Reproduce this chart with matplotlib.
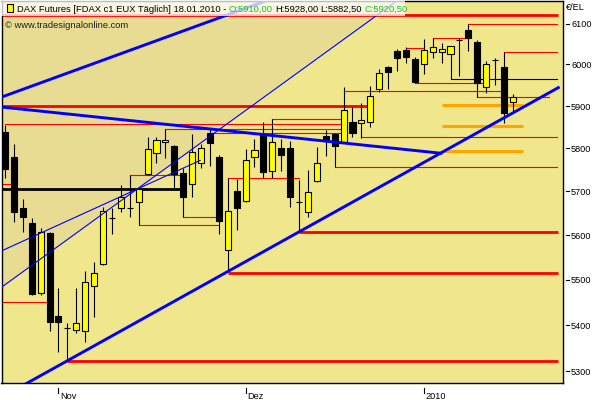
import numpy as np
import matplotlib
matplotlib.use("Agg")
import matplotlib.pyplot as plt
import matplotlib.transforms as mtransforms
from matplotlib.patches import Rectangle

plt.rcParams['font.family'] = ['Liberation Sans', 'DejaVu Sans']

# daily FDAX candles, 23.10.2009 .. 18.01.2010 (index = trading day)
opens = [5838, 5780, 5662, 5628, 5471, 5605, 5420.5, 5394.5, 5390, 5388,
         5486.5, 5535.5, 5639, 5662, 5662, 5676, 5740.5, 5789, 5815, 5805.5,
         5742.5, 5717, 5766, 5836, 5780, 5567, 5701, 5678, 5780, 5833.5,
         5747.5, 5801, 5801, 5676, 5653, 5724, 5829, 5833.5, 5815, 5862,
         5859.5, 5862, 5940.5, 5993.5, 6032.5, 6035, 6013, 6001, 6030, 6030,
         6025.5, 6059.5, 6084, 6054.5, 5945.5, 6010.5, 5993.5, 5910]
highs = [5855, 5810, 5683, 5639, 5616.5, 5607.5, 5482, 5405, 5482, 5520,
         5540, 5664.5, 5662, 5715, 5738, 5710.5, 5826.5, 5826.5, 5845.5, 5807,
         5754, 5833.5, 5810, 5848, 5784.5, 5731, 5729, 5798.5, 5822, 5862,
         5869, 5822, 5817.5, 5726.5, 5749.5, 5803, 5843, 5836, 5945.5, 5897.5,
         5907, 5948, 5989, 5996, 6037.5, 6042, 6018, 6062.5, 6065, 6052,
         6044.5, 6065, 6099, 6059.5, 6008.5, 6015.5, 6030, 5928]
lows = [5731, 5630, 5607.5, 5467, 5467, 5388, 5342, 5323, 5383.5, 5364,
        5418, 5533, 5603, 5653, 5641.5, 5623.5, 5738, 5766, 5777.5, 5708,
        5641.5, 5687.5, 5754, 5759, 5603, 5517.5, 5612, 5676, 5756.5, 5731,
        5731, 5747.5, 5664.5, 5607.5, 5641.5, 5722, 5782, 5756.5, 5812.5, 5826.5,
        5824.5, 5850, 5933.5, 5940.5, 5984, 6003.5, 5955, 5977, 6015.5, 6003.5,
        5964.5, 5972, 6032.5, 5921.5, 5931, 5950.5, 5859.5, 5882.5]
closes = [5752, 5653, 5641.5, 5469, 5607.5, 5407.5, 5407.5, 5394.5, 5405, 5495.5,
          5515.5, 5655, 5639, 5687.5, 5662, 5705.5, 5798.5, 5819.5, 5819.5, 5740.5,
          5687.5, 5791.5, 5801, 5812.5, 5632.5, 5655, 5662, 5773, 5796, 5745,
          5815, 5784.5, 5687.5, 5676, 5699, 5766, 5817.5, 5805.5, 5890.5, 5836,
          5867, 5924, 5979, 5981.5, 6015.5, 6018, 5957.5, 6035, 6042, 6037.5,
          6044.5, 6059.5, 6065, 5955, 6001, 6010.5, 5883.5, 5920.5]

month_labels = ['Nov', 'Dez', '2010']
month_start = [6, 27, 47]
price_ticks = [5300, 5400, 5500, 5600, 5700, 5800, 5900, 6000, 6100]

# horizontal levels: (price, from bar, to bar)
red_thick = [(6122, -1, 62.1), (5900, -1, 41), (5607.5, 33, 62.1),
             (5515, 25, 62.1), (5323, 7, 62.1), (5765.5, -1, 0.1)]
red_thin = [(5857, 0, 38), (5845, 18, 38), (5835, 23, 38), (5869, 30, 38),
            (5718, -1, 1), (5450.5, -1, 5), (5738, 14, 20), (5642, 20, 24),
            (5622.5, 15, 24), (5731.5, 25, 33), (5936, 38, 56), (5825.5, 40, 62),
            (5757, 37, 62), (5955.5, 46, 54), (5921.5, 53, 61), (6098, 52, 62),
            (6030.5, 56, 62), (6063.5, 48, 52), (6039.5, 45, 47)]
black_thin = [(5964.5, 50, 62)]
black_thick = [(5706, -1, 20)]
orange_lv = [(5903.5, 49, 58.1), (5853.5, 49, 58.1), (5793, 49, 58.1)]

# trend lines: two anchor points (bar, price) and drawn range
lower_trend = [(7, lows[7]), (33, lows[33])]
upper_trend = [(-0.56, 5920), (20.54, 6086)]
falling_trend = [(-0.56, 5898), (48.93, 5788.5)]
thin_steep = [(-0.56, 5481), (41.41, 6115)]
thin_flat = [(-0.56, 5563), (14.7, 5704)]


def trend(anchors, x0, x1):
    (xa, ya), (xb, yb) = anchors
    s = (np.log(yb) - np.log(ya)) / (xb - xa)
    xs = np.array([x0, x1])
    return xs, np.exp(np.log(ya) + s * (xs - xa))


W, H = 600, 400
fig = plt.figure(figsize=(6, 4), dpi=100)
fig.patch.set_facecolor('white')
ax = fig.add_axes([1.5 / W, 1 - 382.5 / H, 561 / W, 382 / H])
ax.set_facecolor('#F0E68C')
ax.set_yscale('log')
ax.set_xlim(-0.393, 62.57)
ax.set_ylim(5276.4, 6157)

# shaded area above the thin steep line
xs, ys = trend(thin_steep, -1, 47)
ax.fill_between(xs, ys, 6300, color='#E8DC92', zorder=0.5, lw=0)

for p, a, b in red_thick:
    ax.plot([a, b], [p, p], color='red', lw=2.0, zorder=2, solid_capstyle='butt')
for p, a, b in red_thin:
    ax.plot([a, b], [p, p], color='red', lw=0.8, zorder=2)
for p, a, b in black_thin:
    ax.plot([a, b], [p, p], color='black', lw=0.8, zorder=2)
for p, a, b in black_thick:
    ax.plot([a, b], [p, p], color='black', lw=2.0, zorder=2)
for p, a, b in orange_lv:
    ax.plot([a, b], [p, p], color='#FFA500', lw=2.2, zorder=2, solid_capstyle='butt')

# candles
x = np.arange(len(opens))
o, h, l, c = map(np.array, (opens, highs, lows, closes))
up = c >= o
lo, hi = np.minimum(o, c), np.maximum(o, c)
ax.vlines(x, l, h, color='black', lw=0.8, zorder=4)
ax.bar(x[up], hi[up] - lo[up], bottom=lo[up], width=0.68, color='#FFFF00',
       edgecolor='black', linewidth=0.8, zorder=5)
ax.bar(x[~up], hi[~up] - lo[~up], bottom=lo[~up], width=0.68, color='black',
       edgecolor='black', linewidth=0.8, zorder=5)

for anchors, a, b, lw in [(lower_trend, -2, 62.1, 2.1), (upper_trend, -1, 32, 2.1),
                          (falling_trend, -1, 48.93, 2.1), (thin_steep, -1, 47, 0.8),
                          (thin_flat, -1, 21.9, 0.8)]:
    xs, ys = trend(anchors, a, b)
    ax.plot(xs, ys, color='#0000FF', lw=lw, zorder=6)

# axes / ticks
for s in ax.spines.values():
    s.set_color('black')
    s.set_linewidth(1.0)
ax.yaxis.tick_right()
ax.set_yticks(price_ticks)
ax.set_yticklabels([str(p) for p in price_ticks])
ax.yaxis.set_minor_locator(matplotlib.ticker.NullLocator())
ax.tick_params(axis='y', length=0, pad=6.2, labelsize=6.6, colors='black')
ax.set_xticks(month_start)
ax.set_xticklabels(month_labels, ha='left')
ax.tick_params(axis='x', length=0, pad=6.5, labelsize=6.6)
off = mtransforms.ScaledTranslation(1.5 / 100, 0, fig.dpi_scale_trans)
for lbl in ax.get_xticklabels():
    lbl.set_transform(lbl.get_transform() + off)

ty = ax.get_yaxis_transform()
for p in price_ticks:
    ax.plot([1 + 3 / 561, 1 + 6.5 / 561], [p, p], color='black', lw=0.8,
            transform=ty, clip_on=False)
tx = ax.get_xaxis_transform()
for m in month_start:
    ax.plot([m, m], [-5 / 382, -10 / 382], color='black', lw=0.8,
            transform=tx, clip_on=False)

fig.text(566 / W, 1 - 8 / H, '€/EL', fontsize=6.6, va='center', ha='left')

# header box
ax.add_patch(Rectangle((0, 1 - 16 / H), 405 / W, 16 / H, transform=fig.transFigure,
                       facecolor='white', alpha=0.75, lw=0, zorder=10, clip_on=False))
ax.add_patch(Rectangle((7 / W, 1 - 12 / H), 6 / W, 8 / H, transform=fig.transFigure,
                       facecolor='#FFFF00', edgecolor='black', lw=0.8, zorder=11,
                       clip_on=False))
fs = 6.75
green = '#22C022'
prev = fig.text(17 / W, 1 - 12 / H, 'DAX Futures [FDAX c1 EUX Täglich] 18.01.2010 -',
                fontsize=fs, va='baseline', zorder=12)
for s, col, gap in [('O:5910,00', green, 1.6), ('H:5928,00', 'black', 1.6),
                    ('L:5882,50', 'black', 1.6), ('C:5920,50', green, 1.6)]:
    prev = ax.annotate(s, xy=(1, 0), xycoords=prev, xytext=(gap, 0),
                       textcoords='offset points', va='bottom', ha='left',
                       fontsize=fs, color=col, zorder=12, annotation_clip=False)
fig.text(5 / W, 1 - 27.5 / H, '© www.tradesignalonline.com', fontsize=fs,
         va='baseline', color='#202020', zorder=12)

fig.savefig('out.png', dpi=100)
